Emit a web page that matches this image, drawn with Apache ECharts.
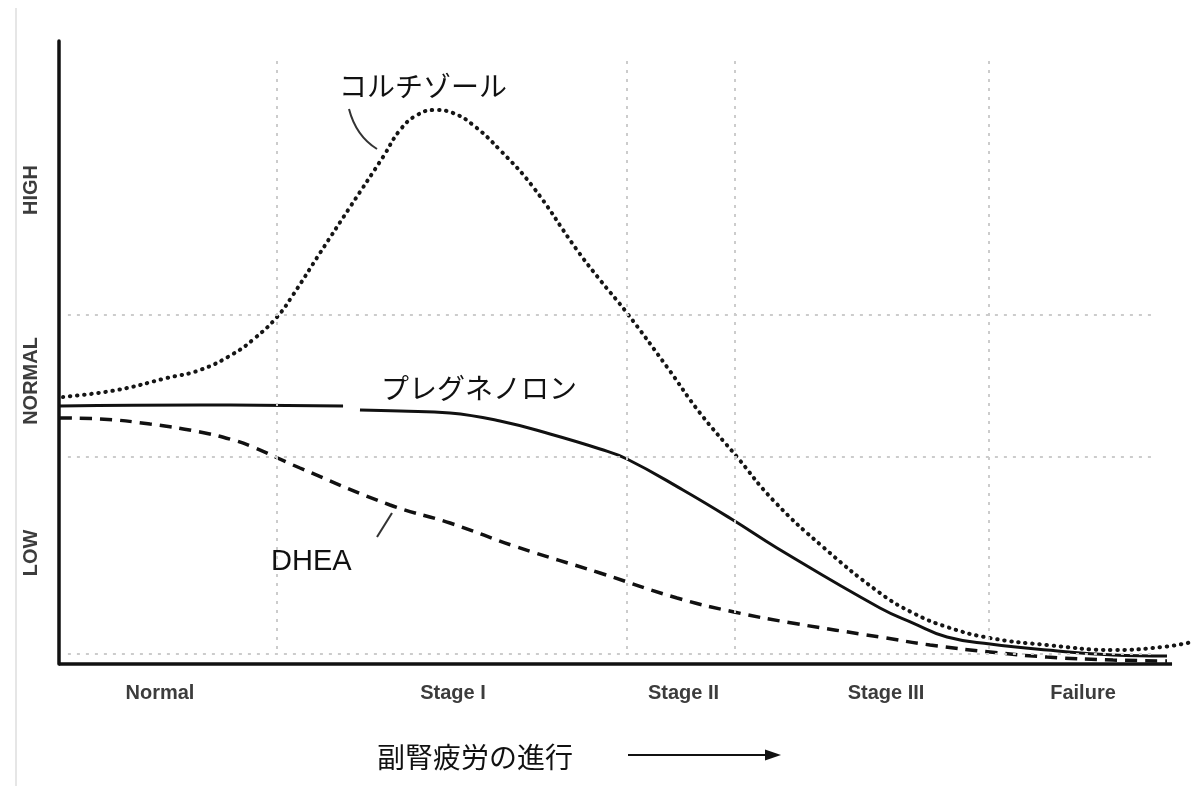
<!DOCTYPE html>
<html>
<head>
<meta charset="utf-8">
<script src="https://cdn.jsdelivr.net/npm/echarts@6/dist/echarts.min.js"></script>
<style>
  html, body { margin: 0; padding: 0; background: #fff; }
  #chart-container { width: 1200px; height: 786px; }
</style>
</head>
<body>
<div id="chart-container"></div>
<script>
let dom = document.getElementById("chart-container");
let myChart = echarts.init(dom, null, { renderer: "canvas" });

// x: progression 0..100 (cortisol runs a little past the axis end), y: level 0..100
const stageNames = ["Normal", "Stage I", "Stage II", "Stage III", "Failure"];
const stageX = [9.07, 35.4, 56.11, 74.3, 92.0];
const levelNames = ["LOW", "NORMAL", "HIGH"];
const levelY = [17.82, 45.43, 76.08];

// dashed guide lines
const guideX = [19.59, 51.03, 60.74, 83.56];
const guideY = [56.02, 33.23, 1.6];

const cortisolX = [0.36, 5.21, 9.7, 12.67, 15.63, 17.61, 19.59, 21.02, 23.45, 26.15, 29.11, 30.64, 32.17, 33.78, 35.4, 37.2, 39.62, 42.59, 46.54, 48.61, 51.03, 54.63, 57.59, 60.92, 64.15, 68.64, 73.76, 76.73, 79.78, 83.65, 88.77, 94.7, 99.19, 101.8];
const cortisolY = [42.86, 43.98, 45.91, 47.19, 49.76, 52.33, 55.7, 59.23, 65.97, 73.35, 81.38, 85.71, 88.12, 88.92, 88.44, 86.52, 82.5, 76.57, 66.45, 61.64, 56.34, 47.67, 40.29, 33.23, 26.32, 18.78, 11.4, 8.19, 5.94, 4.17, 3.05, 2.25, 2.73, 3.53];

// "-" marks the break in the line
const pregX = [0.09, 12.67, 25.52, 26.3, 27.04, 30.64, 35.13, 39.62, 44.12, 48.61, 51.03, 56.06, 60.56, 64.51, 73.76, 76.73, 79.78, 83.65, 88.77, 94.7, 99.55];
const pregY = [41.41, 41.57, 41.41, "-", 40.77, 40.61, 40.29, 39.0, 36.92, 34.51, 32.91, 27.93, 23.11, 18.62, 8.99, 6.58, 4.33, 3.21, 2.25, 1.44, 1.28];

const dheaX = [0.09, 3.68, 8.18, 12.67, 15.63, 17.43, 21.65, 29.74, 35.13, 41.15, 48.61, 55.53, 60.65, 65.86, 73.76, 78.26, 83.65, 88.77, 94.7, 99.55];
const dheaY = [39.49, 39.33, 38.52, 37.24, 35.96, 34.83, 31.46, 25.52, 22.63, 18.78, 14.61, 10.59, 8.35, 6.58, 4.33, 3.05, 1.93, 1.12, 0.64, 0.48];

const xEnd = 100; // where the drawn x axis stops
const xMax = 102; // room for the cortisol tail

const zip = (xs, ys) => xs.map((x, i) => [x, ys[i]]);

function nearestName(value, positions, names) {
  let best = 0;
  positions.forEach((p, i) => {
    if (Math.abs(p - value) < Math.abs(positions[best] - value)) best = i;
  });
  return names[best];
}

const guideLines = [
  ...guideX.map((x) => [{ coord: [x, 96.8] }, { coord: [x, 1.6] }]),
  ...guideY.map((y) => [{ coord: [0.8, y] }, { coord: [98.2, y] }]),
];

const annoFont = '28px "Noto Sans CJK JP", "Noto Sans", sans-serif';

let option = {
  animation: false,
  backgroundColor: "#fff",
  grid: { left: 59, right: 5.7, top: 41, bottom: 122 },
  xAxis: {
    type: "value",
    min: 0,
    max: xMax,
    axisLine: { show: false },
    axisTick: { show: false },
    splitLine: { show: false },
    axisLabel: {
      customValues: stageX,
      formatter: (v) => nearestName(v, stageX, stageNames),
      margin: 19,
      color: "#3c3c3c",
      fontSize: 20,
      fontWeight: "bold",
      fontFamily: "Liberation Sans, Arial, sans-serif",
    },
  },
  yAxis: {
    type: "value",
    min: 0,
    max: 100,
    axisLine: { show: true, lineStyle: { color: "#111", width: 3.5 } },
    axisTick: { show: false },
    splitLine: { show: false },
    axisLabel: {
      customValues: levelY,
      formatter: (v) => nearestName(v, levelY, levelNames),
      rotate: 90,
      margin: 18,
      color: "#3c3c3c",
      fontSize: 20,
      fontWeight: "bold",
      fontFamily: "Liberation Sans, Arial, sans-serif",
    },
  },
  graphic: [
    // thin page border line on the left
    {
      type: "line",
      shape: { x1: 16, y1: 8, x2: 16, y2: 786 },
      style: { stroke: "#dedede", lineWidth: 1.5 },
    },
    {
      type: "text",
      x: 339,
      y: 86,
      style: { text: "コルチゾール", font: annoFont, fill: "#111", verticalAlign: "middle" },
    },
    {
      type: "bezierCurve",
      shape: { x1: 349, y1: 109, cpx1: 356, cpy1: 136, x2: 377, y2: 149 },
      style: { stroke: "#333", lineWidth: 2, fill: null },
    },
    {
      type: "text",
      x: 381,
      y: 388,
      style: { text: "プレグネノロン", font: annoFont, fill: "#111", verticalAlign: "middle" },
    },
    {
      type: "text",
      x: 271,
      y: 562,
      style: { text: "DHEA", font: '29px "Liberation Sans", Arial, sans-serif', fill: "#111", verticalAlign: "middle" },
    },
    {
      type: "line",
      shape: { x1: 377, y1: 537, x2: 392, y2: 513 },
      style: { stroke: "#333", lineWidth: 2 },
    },
    {
      type: "text",
      x: 377,
      y: 757,
      style: { text: "副腎疲労の進行", font: annoFont, fill: "#111", verticalAlign: "middle" },
    },
    {
      type: "line",
      shape: { x1: 628, y1: 755, x2: 772, y2: 755 },
      style: { stroke: "#111", lineWidth: 2 },
    },
    {
      type: "polygon",
      shape: { points: [[765, 749.5], [781, 755], [765, 760.5]] },
      style: { fill: "#111" },
    },
  ],
  series: [
    // ghost series carrying the guide lines and the x axis line
    {
      type: "line",
      data: [[0, 0]],
      symbol: "none",
      lineStyle: { opacity: 0 },
      silent: true,
      z: 1,
      markLine: {
        silent: true,
        symbol: ["none", "none"],
        label: { show: false },
        lineStyle: { color: "#cccccc", type: [3, 6], width: 2 },
        data: guideLines,
      },
    },
    {
      type: "line",
      data: [[0, 0]],
      symbol: "none",
      lineStyle: { opacity: 0 },
      silent: true,
      z: 5,
      markLine: {
        silent: true,
        symbol: ["none", "none"],
        label: { show: false },
        lineStyle: { color: "#111", type: "solid", width: 3.5 },
        data: [[{ coord: [0, 0] }, { coord: [xEnd, 0] }]],
      },
    },
    {
      name: "コルチゾール",
      type: "line",
      data: zip(cortisolX, cortisolY),
      smooth: 0.45,
      symbol: "none",
      z: 3,
      lineStyle: { color: "#151515", width: 4, type: [0.5, 6.6], cap: "round" },
    },
    {
      name: "プレグネノロン",
      type: "line",
      data: zip(pregX, pregY),
      smooth: 0.45,
      symbol: "none",
      connectNulls: false,
      z: 3,
      lineStyle: { color: "#111", width: 3 },
    },
    {
      name: "DHEA",
      type: "line",
      data: zip(dheaX, dheaY),
      smooth: 0.45,
      symbol: "none",
      z: 3,
      lineStyle: { color: "#111", width: 3.5, type: [12, 8] },
    },
  ],
};

myChart.setOption(option);
window.addEventListener("resize", myChart.resize);
</script>
</body>
</html>
